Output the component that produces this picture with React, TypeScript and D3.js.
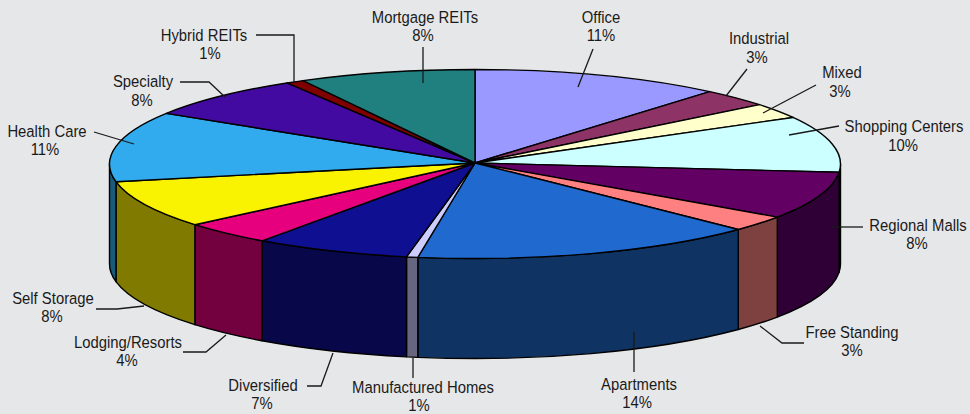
import React from "react";
import * as d3 from "d3";

const W = 970;
const H = 414;

const categories = ["Office","Industrial","Mixed","Shopping Centers","Regional Malls","Free Standing","Apartments","Manufactured Homes","Diversified","Lodging/Resorts","Self Storage","Health Care","Specialty","Hybrid REITs","Mortgage REITs"];
const percentLabels = ["11%","3%","3%","10%","8%","3%","14%","1%","7%","4%","8%","11%","8%","1%","8%"];
const shares = [11.1,3.1,2.6,9.6,8.1,2.7,15.3,0.5,6.9,4.0,8.1,12.0,7.4,0.8,7.8];
const topColors = ["#9999ff","#8d3366","#ffffcc","#ccffff","#620063","#ff8080","#1f69cf","#ccccff","#0f0f91","#e6007e","#f9f200","#31abed","#420aa0","#800000","#208080"];
const sideColors = ["#4d4d80","#461a33","#808066","#668080","#2f0035","#7f4040","#0f3363","#666680","#07074a","#73003f","#807a00","#1a5a7a","#21054f","#400000","#104040"];

const CX = 475, CY = 164, RX = 365.5, RY = 94.5, DEPTH = 100;

// Layout of each label and leader, in category order
const labelLayout = [
  { x: 601, x2: 601, y: 23, y2: 41, leader: [[593,49],[578,87]] },
  { x: 759, x2: 757, y: 44, y2: 63, leader: [[747,69],[726,96]] },
  { x: 842, x2: 840, y: 78, y2: 97, leader: [[816,85],[763,113]] },
  { x: 904, x2: 903, y: 132, y2: 151, leader: [[839,126],[789,135]] },
  { x: 918, x2: 917, y: 231, y2: 249, leader: [[863,227],[832,227]] },
  { x: 852, x2: 852, y: 338, y2: 356, leader: [[804,343],[782,343],[760,326]] },
  { x: 639, x2: 637, y: 390, y2: 408, leader: [[634,332],[634,372]] },
  { x: 423, x2: 419, y: 393, y2: 411, leader: [[413,358],[413,378]] },
  { x: 263, x2: 262, y: 391, y2: 409, leader: [[307,386],[321,386],[333,353]] },
  { x: 128, x2: 127, y: 348, y2: 366, leader: [[183,352],[206,352],[226,335]] },
  { x: 53, x2: 52, y: 304, y2: 322, leader: [[96,309],[117,309],[144,306]] },
  { x: 47, x2: 45, y: 137, y2: 155, leader: [[94,132],[134,144]] },
  { x: 143, x2: 142, y: 87, y2: 106, leader: [[180,82],[209,82],[225,97]] },
  { x: 204, x2: 210, y: 41, y2: 59, leader: [[256,35],[294,35],[294,82]] },
  { x: 425, x2: 423, y: 23, y2: 41, leader: [[423,47],[423,83]] },
];

const px = d3.scaleLinear().domain([-1, 1]).range([CX - RX, CX + RX]);
const py = d3.scaleLinear().domain([-1, 1]).range([CY - RY, CY + RY]);
const rim = (a: number, dy = 0): [number, number] => [px(Math.sin(a)), py(-Math.cos(a)) + dy];

const rimArc = (a0: number, a1: number, dy = 0) => {
  const [x, y] = rim(a1, dy);
  const sweep = a1 > a0 ? 1 : 0;
  const large = Math.abs(a1 - a0) > Math.PI ? 1 : 0;
  return `A${RX} ${RY} 0 ${large} ${sweep} ${x} ${y}`;
};

const pie = d3.pie<number>().sort(null).value((d) => d);
const arcs = pie(shares);
const leaderLine = d3.line();
const TEXT_SQUEEZE = 0.9;

export default function App() {
  const front0 = Math.PI / 2;
  const front1 = (3 * Math.PI) / 2;
  return (
    <svg
      width={W}
      height={H}
      viewBox={`0 0 ${W} ${H}`}
      style={{ position: "absolute", left: 0, top: 0, display: "block", background: "#e6e7e9" }}
    >
      <g stroke="#000" strokeWidth={1.4} strokeLinejoin="round">
        {arcs.map((d, i) => {
          const a0 = Math.max(d.startAngle, front0);
          const a1 = Math.min(d.endAngle, front1);
          if (a1 <= a0) return null;
          const [x0, y0] = rim(a0);
          const [xb, yb] = rim(a1, DEPTH);
          return (
            <path
              key={"side" + i}
              fill={sideColors[i]}
              d={`M${x0} ${y0}${rimArc(a0, a1)}L${xb} ${yb}${rimArc(a1, a0, DEPTH)}Z`}
            />
          );
        })}
        {arcs.map((d, i) => {
          const [x0, y0] = rim(d.startAngle);
          return (
            <path
              key={"top" + i}
              fill={topColors[i]}
              d={`M${CX} ${CY - 1}L${x0} ${y0}${rimArc(d.startAngle, d.endAngle)}Z`}
            />
          );
        })}
      </g>
      <g fill="none" stroke="#1a1a1a" strokeWidth={1.3}>
        {labelLayout.map((l, i) => (
          <path key={"lead" + i} d={leaderLine(l.leader as [number, number][]) ?? ""} />
        ))}
      </g>
      <g fontFamily="'Liberation Sans', Arial, sans-serif" fontSize={16.5} fill="#1a1a1a" textAnchor="middle">
        {labelLayout.map((l, i) => (
          <g key={"lab" + i}>
            <text transform={`translate(${l.x} ${l.y}) scale(${TEXT_SQUEEZE} 1)`}>{categories[i]}</text>
            <text transform={`translate(${l.x2} ${l.y2}) scale(${TEXT_SQUEEZE} 1)`}>{percentLabels[i]}</text>
          </g>
        ))}
      </g>
    </svg>
  );
}
